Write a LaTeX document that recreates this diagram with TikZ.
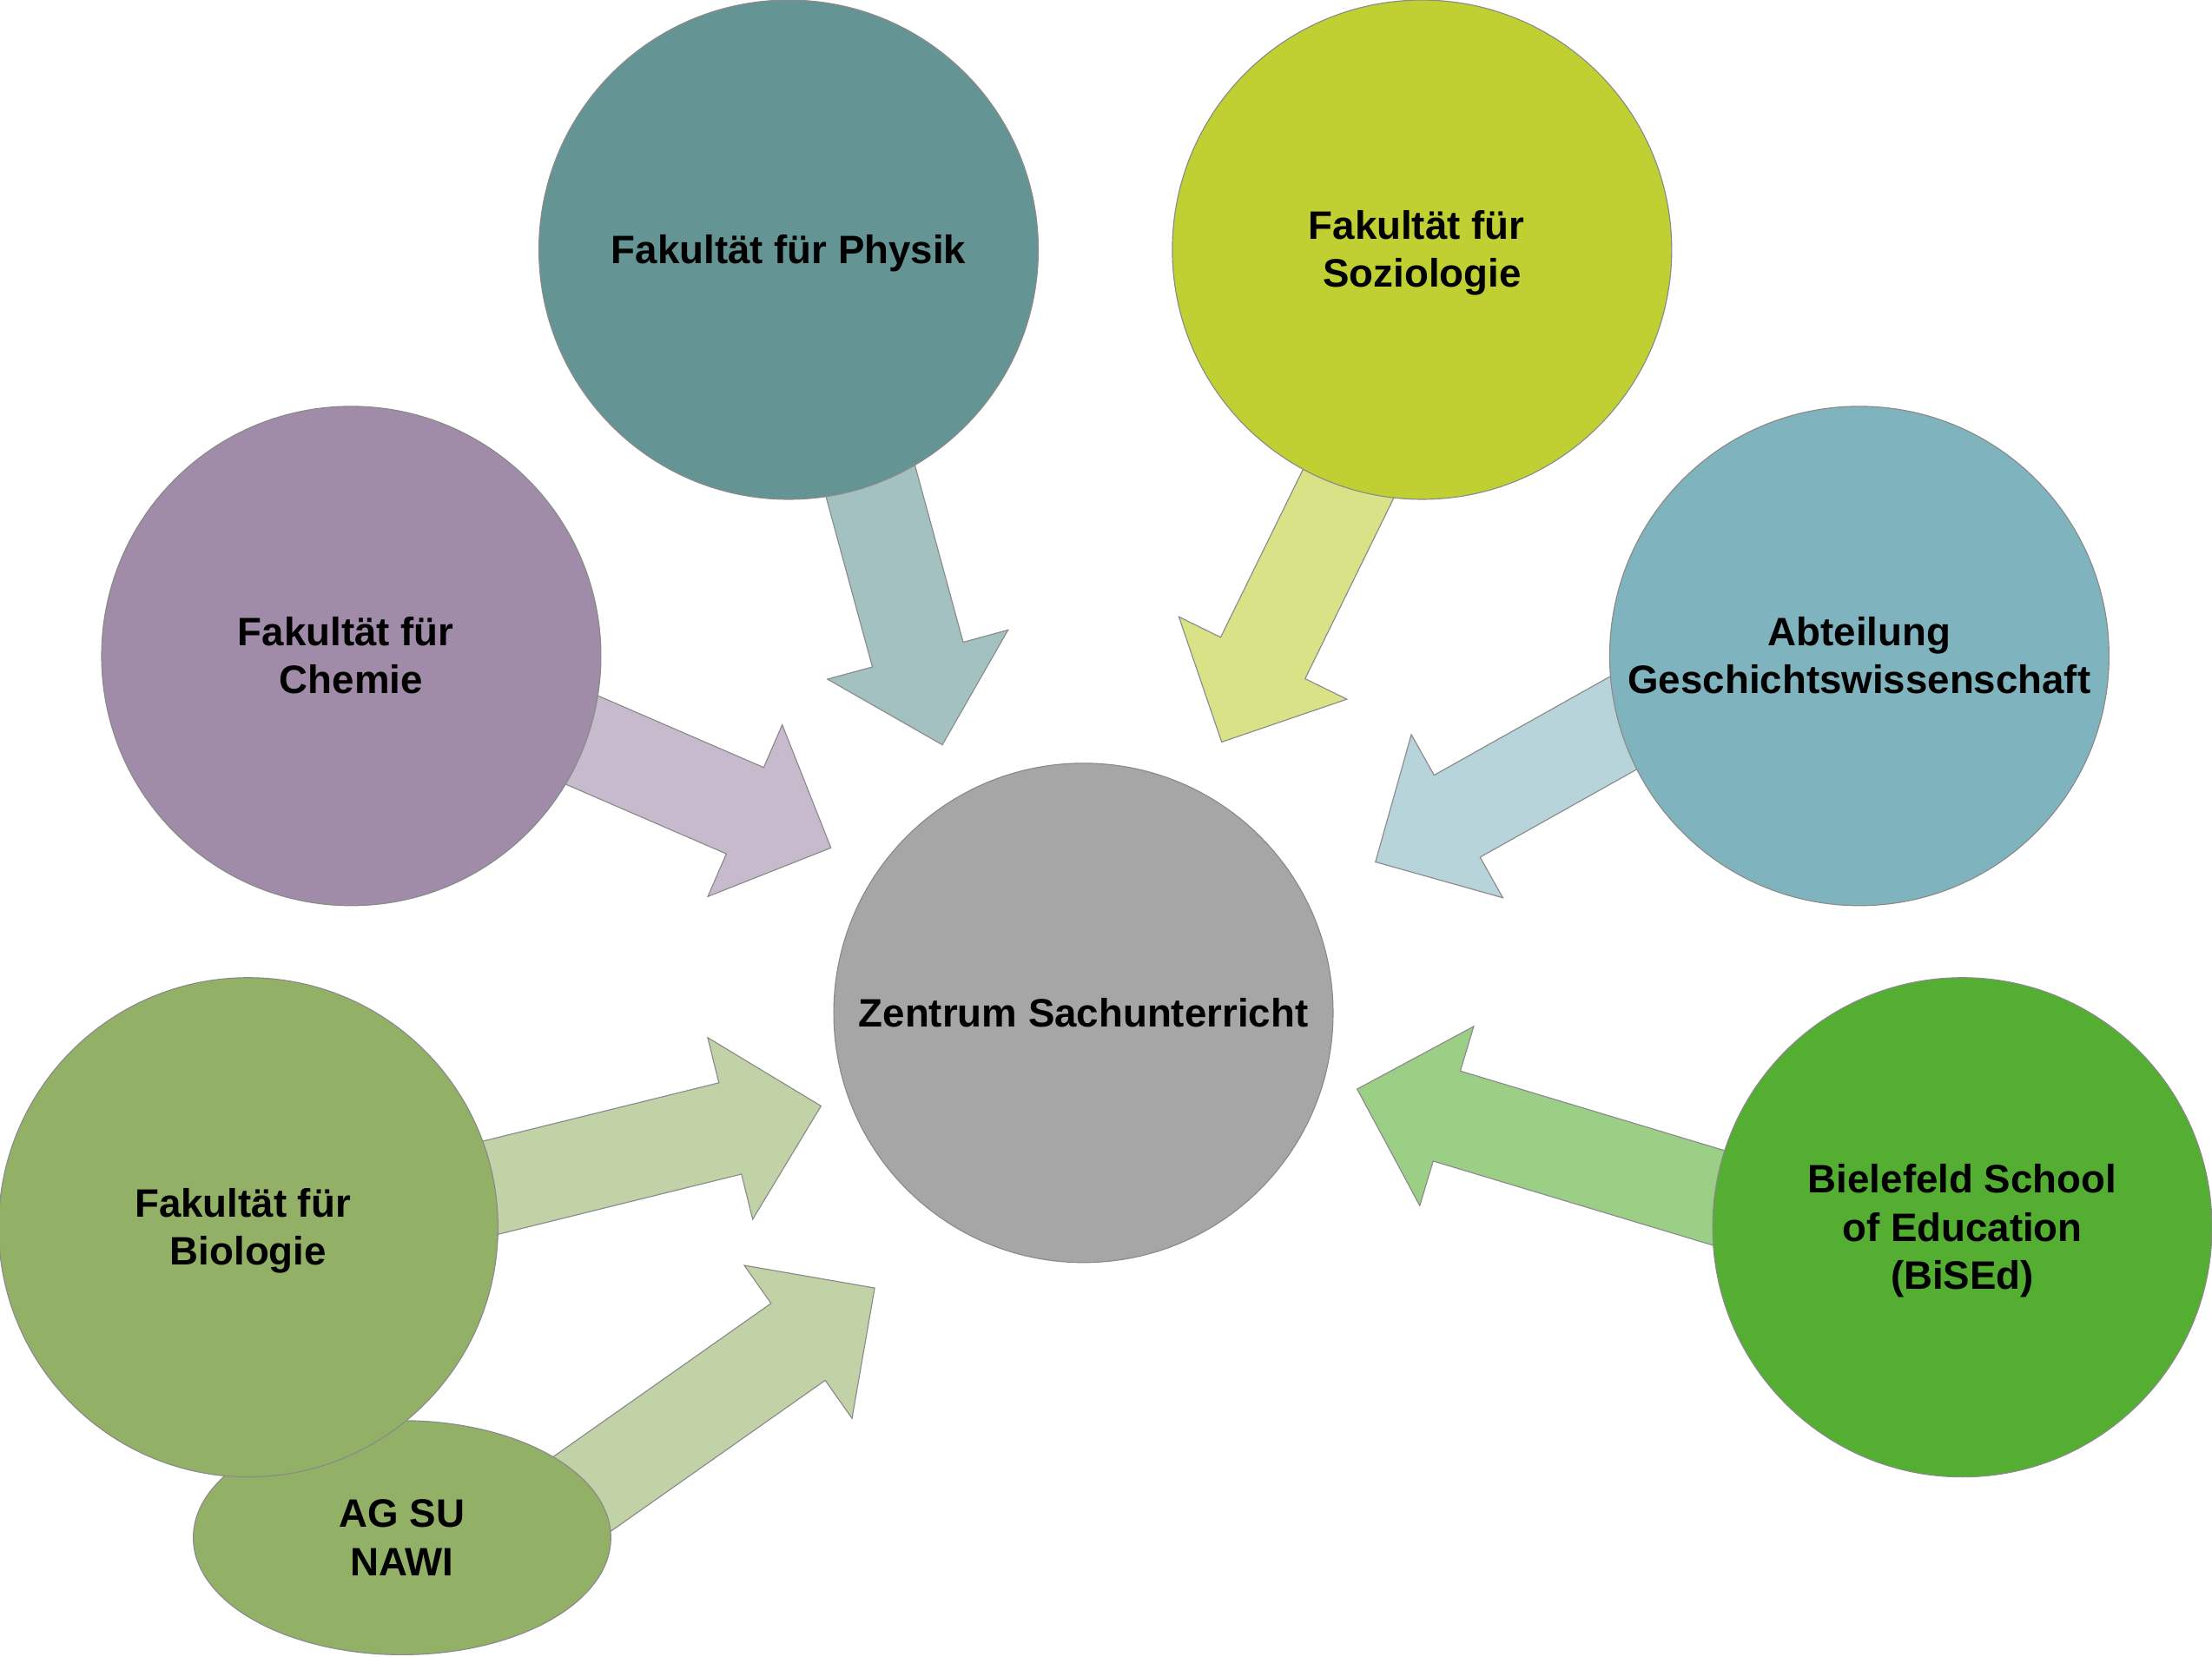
\documentclass[tikz,border=0pt]{standalone}
\usepackage{fontspec}
\setmainfont{Liberation Sans}
\usetikzlibrary{shapes.geometric,shapes.arrows,calc}

\definecolor{rimgray}{HTML}{8A8A8A}
\definecolor{physik}{HTML}{649594}
\definecolor{physikarrow}{HTML}{A3C1C1}
\definecolor{soziologie}{HTML}{C0D032}
\definecolor{soziologiearrow}{HTML}{D9E287}
\definecolor{chemie}{HTML}{A08BA8}
\definecolor{chemiearrow}{HTML}{C7BACD}
\definecolor{geschichte}{HTML}{7FB3BD}
\definecolor{geschichtearrow}{HTML}{B6D4D9}
\definecolor{zentrum}{HTML}{A6A6A6}
\definecolor{biologie}{HTML}{93B067}
\definecolor{biologiearrow}{HTML}{C0D2A6}
\definecolor{bised}{HTML}{53AE32}
\definecolor{bisedarrow}{HTML}{9CCF86}

% line struts as the slides use them
\newcommand{\ascline}{\rule{0pt}{.905em}}
\newcommand{\descline}{\rule[-.212em]{0pt}{0pt}}

\tikzset{
  unit/.style={circle, minimum size=7.08cm, inner sep=0pt, draw=rimgray, line width=0.4pt,
    align=center, font=\bfseries\fontsize{16}{19.35}\selectfont},
  flow/.style={single arrow, draw=rimgray, line width=0.4pt, inner sep=0pt, inner ysep=0.66cm,
    outer sep=0pt, minimum width=0pt, single arrow head extend=0.66cm,
    single arrow tip angle=90, anchor=tip}
}

\begin{document}
\begin{tikzpicture}[x=0.02cm, y=-0.02cm]
 \useasboundingbox (0,0) rectangle (1568,1174);
 % arrow tails and tips
 \coordinate (physikS) at (589,238);      \coordinate (physikT) at (668,528);
 \coordinate (soziologieS) at (1020,212); \coordinate (soziologieT) at (866,526);
 \coordinate (chemieS) at (268,462);      \coordinate (chemieT) at (589,601);
 \coordinate (geschichteS) at (1280,440); \coordinate (geschichteT) at (975,611);
 \coordinate (bisedS) at (1364,893);      \coordinate (bisedT) at (962,772);
 \coordinate (biologieS) at (194,880);    \coordinate (biologieT) at (582,784);
 \coordinate (agsuS) at (309,1132);       \coordinate (agsuT) at (620,913);
 \foreach \s/\t/\c in {physikS/physikT/physikarrow, soziologieS/soziologieT/soziologiearrow,
   chemieS/chemieT/chemiearrow, geschichteS/geschichteT/geschichtearrow,
   bisedS/bisedT/bisedarrow, biologieS/biologieT/biologiearrow, agsuS/agsuT/biologiearrow}{
  \path let \p1=($(\t)-(\s)$), \n1={atan2(\y1,\x1)}, \n2={veclen(\x1,\y1)} in
   node[flow, fill=\c, rotate=\n1, minimum height=\n2] at (\t) {};
 }
 % circles
 \node[unit, fill=physik] (physik) at (559,177) {\ascline Fakultät für Physik\descline};
 \node[unit, fill=soziologie] (soziologie) at (1008,177) {\ascline Fakultät für\kern.278em\\Soziologie\descline};
 \node[unit, fill=chemie] (chemie) at (249,465) {\ascline Fakultät für\kern.278em\\Chemie\descline};
 \node[unit, fill=geschichte] (geschichte) at (1318,465) {\ascline Abteilung\\Geschichtswissenschaft\descline};
 \node[unit, fill=zentrum] (zentrum) at (768,718) {\ascline Zentrum Sachunterricht\descline};
 \node[unit, ellipse, minimum width=5.92cm, minimum height=3.32cm, fill=biologie] (agsu) at (285,1090) {\ascline AG SU\\NAWI\descline};
 \node[unit, fill=biologie] (biologie) at (176,870) {\ascline Fakultät für\kern.278em\\Biologie\descline};
 \node[unit, fill=bised] (bised) at (1391,870) {\ascline Bielefeld School\\of Education\\(BiSEd)\descline};
\end{tikzpicture}
\end{document}
